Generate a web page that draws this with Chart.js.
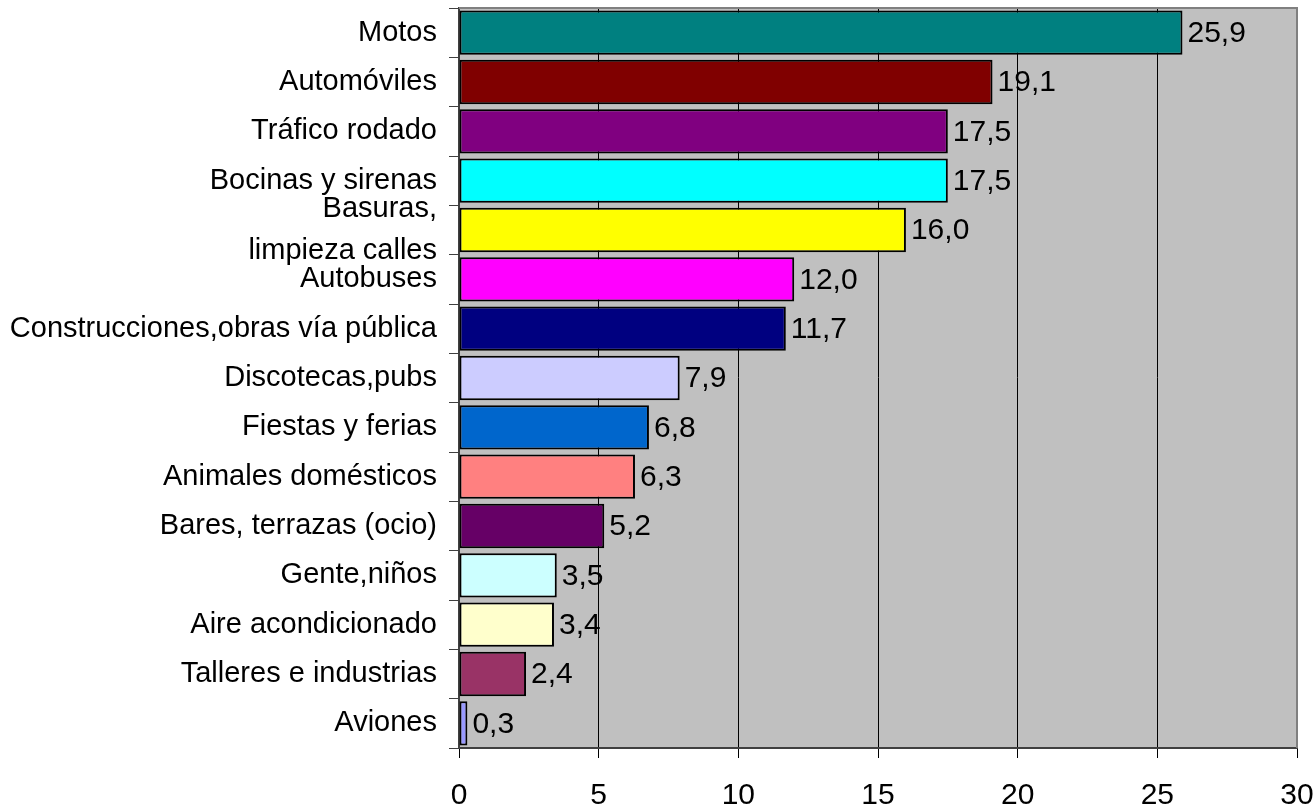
<!DOCTYPE html>
<html><head><meta charset="utf-8">
<script src="https://cdn.jsdelivr.net/npm/chart.js@4/dist/chart.umd.min.js"></script>
<style>html,body{margin:0;padding:0;background:#fff}#wrap{width:1315px;height:810px}</style>
</head><body><div id="wrap"><canvas id="c" width="1315" height="810"></canvas></div>
<script>
const categories = ["Motos","Automóviles","Tráfico rodado","Bocinas y sirenas",["Basuras,","limpieza calles"],"Autobuses","Construcciones,obras vía pública","Discotecas,pubs","Fiestas y ferias","Animales domésticos","Bares, terrazas (ocio)","Gente,niños","Aire acondicionado","Talleres e industrias","Aviones"];
const values = [25.9,19.1,17.5,17.5,16.0,12.0,11.7,7.9,6.8,6.3,5.2,3.5,3.4,2.4,0.3];
const barColors = ["#008080","#800000","#800080","#00FFFF","#FFFF00","#FF00FF","#000080","#CCCCFF","#0066CC","#FF8080","#660066","#CCFFFF","#FFFFCC","#993366","#9999FF"];
const xTicks = [0,5,10,15,20,25,30];

const FONT = "'Liberation Sans', Arial, sans-serif";

const plotBg = {
  id:'plotBg',
  beforeDraw(chart){
    const {ctx, chartArea:a} = chart;
    ctx.save(); ctx.fillStyle='#C0C0C0'; ctx.fillRect(a.left,a.top,a.right-a.left,a.bottom-a.top); ctx.restore();
  },
  afterDatasetsDraw(chart){
    const {ctx, chartArea:a} = chart;
    ctx.save(); ctx.strokeStyle='#808080'; ctx.lineWidth=2;
    ctx.beginPath(); ctx.moveTo(a.left,a.top); ctx.lineTo(a.right,a.top); ctx.lineTo(a.right,a.bottom); ctx.stroke();
    ctx.restore();
    const meta = chart.getDatasetMeta(0);
    ctx.save(); ctx.fillStyle='#000'; ctx.font='30px '+FONT; ctx.textBaseline='middle'; ctx.textAlign='left';
    meta.data.forEach((bar,i)=>{
      ctx.fillText(values[i].toFixed(1).replace('.',','), bar.x+5, bar.y+1);
    });
    ctx.restore();
  }
};

new Chart(document.getElementById('c'),{
  type:'bar',
  data:{labels:categories,datasets:[{data:values,backgroundColor:barColors,borderColor:'#000',borderWidth:2,borderSkipped:false,barPercentage:0.9,categoryPercentage:1}]},
  plugins:[plotBg],
  options:{
    indexAxis:'y',responsive:false,animation:false,devicePixelRatio:1,
    layout:{padding:{top:8,right:18,left:0,bottom:0}},
    plugins:{legend:{display:false},tooltip:{enabled:false}},
    scales:{
      x:{min:0,max:30,
        afterBuildTicks(s){s.ticks = xTicks.map(v=>({value:v}));},
        afterFit(s){s.height=62;s.paddingLeft=0;s.paddingRight=0;},
        grid:{color:'#000',lineWidth:1,tickLength:10,tickColor:'#000'},
        border:{color:'#404040',width:2},
        ticks:{color:'#000',font:{family:FONT,size:30},padding:20,maxRotation:0}
      },
      y:{
        afterFit(s){s.width=459;s.paddingTop=0;s.paddingBottom=0;},
        grid:{drawOnChartArea:false,tickLength:10,tickColor:'#404040',offset:true},
        border:{color:'#404040',width:2},
        ticks:{color:'#000',font:{family:FONT,size:29,lineHeight:1.45},padding:12,autoSkip:false}
      }
    }
  }
});
</script></body></html>
